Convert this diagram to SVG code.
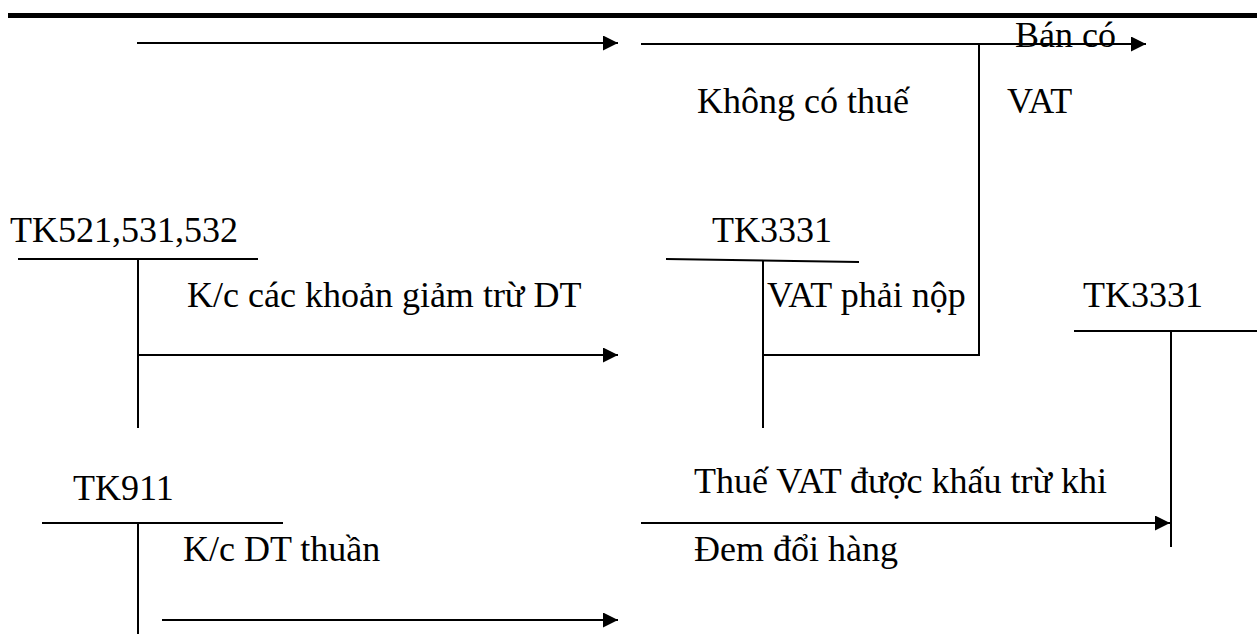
<svg xmlns="http://www.w3.org/2000/svg" width="1257" height="637" viewBox="0 0 1257 637" font-family="'Liberation Serif', Tinos, 'Times New Roman', 'DejaVu Serif', serif">
  <style>
    text { font-family: "Liberation Serif", Tinos, "Times New Roman", "DejaVu Serif", serif; font-size: 36px; fill: #000; }
    .ln { stroke: #000; stroke-width: 2; fill: none; }
    .bar { stroke: #000; stroke-width: 5; }
  </style>
  <defs>
    <marker id="arrow" markerUnits="userSpaceOnUse" markerWidth="16" markerHeight="15" refX="15" refY="7.5" orient="auto">
      <path d="M0,0 L15,7.5 L0,15 Z" fill="#000"/>
    </marker>
  </defs>
  <rect width="1257" height="637" fill="#fff"/>

  <!-- header rule -->
  <line class="bar" x1="8" y1="15.5" x2="1257" y2="15.5"/>

  <!-- T-accounts -->
  <g id="tk521">
    <text x="10" y="242">TK521,531,532</text>
    <line class="ln" x1="18" y1="259" x2="258" y2="259"/>
    <line class="ln" x1="138" y1="259" x2="138" y2="428"/>
  </g>
  <g id="tk3331-a">
    <text x="712" y="242">TK3331</text>
    <line class="ln" x1="666" y1="259" x2="859" y2="262"/>
    <line class="ln" x1="763" y1="260" x2="763" y2="428"/>
  </g>
  <g id="tk3331-b">
    <text x="1083" y="307">TK3331</text>
    <line class="ln" x1="1074" y1="331" x2="1257" y2="331"/>
    <line class="ln" x1="1171" y1="331" x2="1171" y2="547"/>
  </g>
  <g id="tk911">
    <text x="73" y="500">TK911</text>
    <line class="ln" x1="42" y1="523" x2="283" y2="523"/>
    <line class="ln" x1="138" y1="523" x2="138" y2="634"/>
  </g>

  <!-- entry labels -->
  <g id="labels">
    <text x="1015" y="47">Bán có</text>
    <text x="697" y="113">Không có thuế</text>
    <text x="1007" y="113">VAT</text>
    <text x="187" y="307">K/c các khoản giảm trừ DT</text>
    <text x="767" y="307">VAT phải nộp</text>
    <text x="694" y="493">Thuế VAT được khấu trừ khi</text>
    <text x="694" y="561">Đem đổi hàng</text>
    <text x="183" y="561">K/c DT thuần</text>
  </g>

  <!-- connectors -->
  <g id="connectors">
    <line class="ln" x1="137" y1="43" x2="618" y2="43" marker-end="url(#arrow)"/>
    <line class="ln" x1="641" y1="44" x2="1146" y2="44" marker-end="url(#arrow)"/>
    <polyline class="ln" points="979,44 979,355 763,355"/>
    <line class="ln" x1="138" y1="355" x2="618" y2="355" marker-end="url(#arrow)"/>
    <line class="ln" x1="641" y1="523" x2="1170" y2="523" marker-end="url(#arrow)"/>
    <line class="ln" x1="162" y1="620" x2="618" y2="620" marker-end="url(#arrow)"/>
  </g>
</svg>
